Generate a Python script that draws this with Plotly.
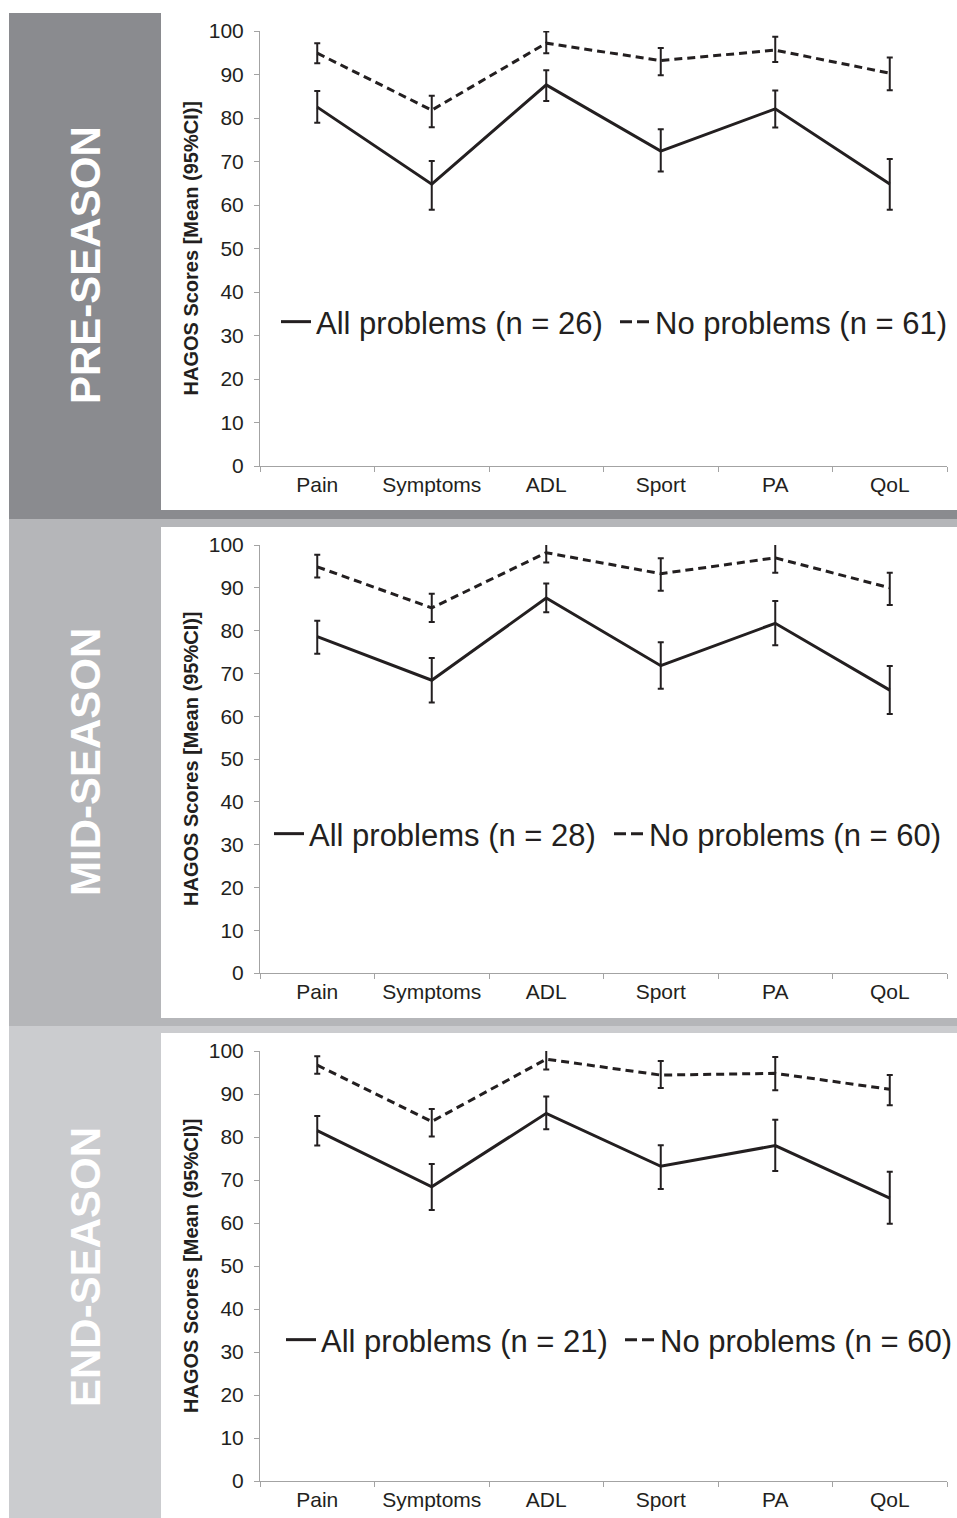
import plotly.graph_objects as go

W, H = 957, 1518

categories = ["Pain", "Symptoms", "ADL", "Sport", "PA", "QoL"]
y_ticks = [0, 10, 20, 30, 40, 50, 60, 70, 80, 90, 100]

season_labels = ["PRE-SEASON", "MID-SEASON", "END-SEASON"]
all_names = ["All problems (n = 26)", "All problems (n = 28)", "All problems (n = 21)"]
none_names = ["No problems (n = 61)", "No problems (n = 60)", "No problems (n = 60)"]

# Pre-season
pre_all_mean = [82.5, 64.8, 87.6, 72.4, 82.1, 64.8]
pre_all_low = [78.9, 58.9, 83.9, 67.7, 77.8, 58.9]
pre_all_high = [86.2, 70.1, 91.0, 77.4, 86.3, 70.6]
pre_none_mean = [94.9, 81.8, 97.2, 93.2, 95.6, 90.3]
pre_none_low = [92.6, 77.9, 94.9, 89.8, 92.9, 86.4]
pre_none_high = [97.2, 85.1, 99.9, 96.1, 98.7, 93.9]

# Mid-season
mid_all_mean = [78.6, 68.4, 87.6, 71.8, 81.7, 66.1]
mid_all_low = [74.6, 63.2, 84.3, 66.4, 76.6, 60.5]
mid_all_high = [82.3, 73.6, 91.0, 77.3, 86.9, 71.7]
mid_none_mean = [94.9, 85.3, 98.2, 93.3, 97.0, 90.0]
mid_none_low = [92.4, 82.0, 95.9, 89.3, 93.5, 86.0]
mid_none_high = [97.7, 88.6, 100.8, 96.9, 100.8, 93.5]

# End-season
end_all_mean = [81.5, 68.4, 85.5, 73.2, 78.0, 65.8]
end_all_low = [78.0, 63.0, 81.8, 67.9, 72.1, 59.8]
end_all_high = [84.9, 73.7, 89.4, 78.1, 84.0, 71.9]
end_none_mean = [96.7, 83.6, 98.1, 94.4, 94.8, 91.1]
end_none_low = [94.7, 80.1, 95.7, 91.4, 90.9, 87.4]
end_none_high = [98.8, 86.5, 100.4, 97.7, 98.6, 94.4]

panels = [
    (pre_all_mean, pre_all_low, pre_all_high, pre_none_mean, pre_none_low, pre_none_high),
    (mid_all_mean, mid_all_low, mid_all_high, mid_none_mean, mid_none_low, mid_none_high),
    (end_all_mean, end_all_low, end_all_high, end_none_mean, end_none_low, end_none_high),
]

# layout geometry (pixels)
band_colors = ["#8a8b8f", "#b5b6b9", "#cbcccf"]
band_px = [(13, 519), (519, 1026), (1026, 1518)]
white_px = [(13, 510), (527, 1018), (1033, 1518)]
axis_px = [(31, 466), (545, 973), (1051, 1481)]   # (100, 0)
label_center_px = [265, 762, 1267]
legend_y_px = [322, 834, 1340]
legend_all_x_px = [276, 269, 281]
legend_none_x_px = [615, 609, 620]
x_left_px, x_right_px = 260, 947

INK = "#231f20"
AXC = "#a3a3a3"
FONT = "Liberation Sans, Arial, sans-serif"


def py(p):
    return 1 - p / H


fig = go.Figure()
shapes = []
annotations = []
layout = {}

for i, (am, al, ah, nm, nl, nh) in enumerate(panels):
    xa = "x" if i == 0 else f"x{i+1}"
    ya = "y" if i == 0 else f"y{i+1}"
    lg_a = "legend" if i == 0 else f"legend{2*i+1}"
    lg_n = f"legend{2*i+2}"

    fig.add_trace(go.Scatter(
        x=categories, y=am, mode="lines", xaxis=xa, yaxis=ya,
        line=dict(color=INK, width=3), showlegend=False, cliponaxis=False,
        error_y=dict(type="data", symmetric=False,
                     array=[h - m for h, m in zip(ah, am)],
                     arrayminus=[m - l for m, l in zip(am, al)],
                     color=INK, thickness=2, width=3),
    ))
    fig.add_trace(go.Scatter(
        x=categories, y=nm, mode="lines", xaxis=xa, yaxis=ya,
        line=dict(color=INK, width=3, dash="8px,5px"), showlegend=False, cliponaxis=False,
        error_y=dict(type="data", symmetric=False,
                     array=[h - m for h, m in zip(nh, nm)],
                     arrayminus=[m - l for m, l in zip(nm, nl)],
                     color=INK, thickness=2, width=3),
    ))
    # legend entries
    fig.add_trace(go.Scatter(
        x=[None], y=[None], mode="lines", xaxis=xa, yaxis=ya, name=all_names[i],
        line=dict(color=INK, width=3), legend=lg_a, showlegend=True,
    ))
    fig.add_trace(go.Scatter(
        x=[None], y=[None], mode="lines", xaxis=xa, yaxis=ya, name=none_names[i],
        line=dict(color=INK, width=3, dash="12px,5px"), legend=lg_n, showlegend=True,
    ))

    for lg, xp in ((lg_a, legend_all_x_px[i]), (lg_n, legend_none_x_px[i])):
        layout[lg] = dict(
            x=xp / W, y=py(legend_y_px[i]), xanchor="left", yanchor="middle",
            xref="paper", yref="paper", orientation="h",
            bgcolor="rgba(0,0,0,0)", borderwidth=0,
            font=dict(family=FONT, size=31, color=INK),
        )

    top, bot = axis_px[i]
    layout["xaxis" if i == 0 else f"xaxis{i+1}"] = dict(
        type="category", categoryorder="array", categoryarray=categories,
        range=[-0.5, 5.5], domain=[x_left_px / W, x_right_px / W], anchor=ya,
        tickson="boundaries", ticks="outside", ticklen=5, tickcolor=AXC, tickwidth=1,
        showline=True, linecolor=AXC, linewidth=1, showgrid=False, zeroline=False,
        tickfont=dict(family=FONT, size=21, color=INK), automargin=False,
    )
    layout["yaxis" if i == 0 else f"yaxis{i+1}"] = dict(
        range=[0, 100], domain=[py(bot), py(top)], anchor=xa,
        tickvals=y_ticks, ticks="outside", ticklen=5, tickcolor=AXC, tickwidth=1,
        showline=True, linecolor=AXC, linewidth=1, showgrid=False, zeroline=False,
        tickfont=dict(family=FONT, size=21, color=INK), ticklabelstandoff=6,
        automargin=False,
    )

    b0, b1 = band_px[i]
    w0, w1 = white_px[i]
    shapes.append(dict(type="rect", xref="paper", yref="paper", layer="below",
                       x0=9 / W, x1=1, y0=py(b1), y1=py(b0),
                       fillcolor=band_colors[i], line=dict(width=0)))
    shapes.append(dict(type="rect", xref="paper", yref="paper", layer="below",
                       x0=161 / W, x1=1, y0=py(w1), y1=py(w0),
                       fillcolor="white", line=dict(width=0)))

    annotations.append(dict(
        text=season_labels[i], x=85 / W, y=py(label_center_px[i]), xref="paper", yref="paper",
        xanchor="center", yanchor="middle", textangle=-90, showarrow=False,
        font=dict(family=FONT, size=42, color="white", weight="bold"),
    ))
    annotations.append(dict(
        text="HAGOS Scores [Mean (95%CI)]", x=191 / W, y=py((top + bot) / 2),
        xref="paper", yref="paper", xanchor="center", yanchor="middle",
        textangle=-90, showarrow=False,
        font=dict(family=FONT, size=20, color=INK, weight="bold"),
    ))

fig.update_layout(
    width=W, height=H, margin=dict(l=0, r=0, t=0, b=0, pad=0, autoexpand=False),
    paper_bgcolor="white", plot_bgcolor="rgba(0,0,0,0)",
    shapes=shapes, annotations=annotations, **layout,
)

fig.write_html(
    "out.html",
    config={"displayModeBar": False},
    post_script="document.body.style.margin='0';document.body.style.overflow='hidden';",
)
